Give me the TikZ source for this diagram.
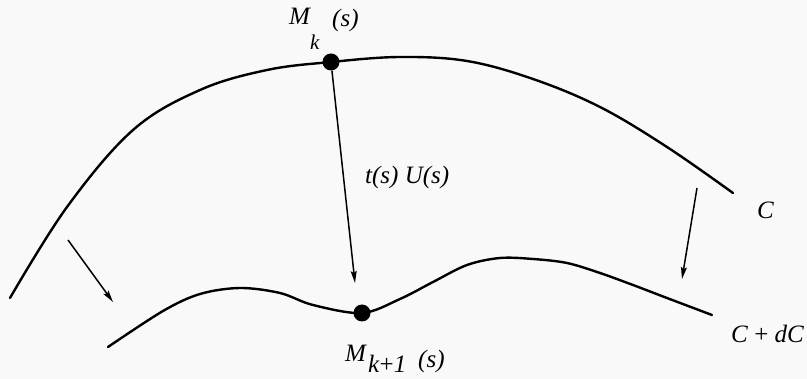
\documentclass[tikz,border=0pt]{standalone}
\usepackage{fontspec}
\setmainfont{Liberation Serif}
\usetikzlibrary{arrows.meta}
\definecolor{paper}{rgb}{0.975,0.975,0.975}
\tikzset{
  curve/.style={line width=2.4pt, line cap=round, line join=round},
  vecarrow/.style={line width=1.5pt, -{Stealth[length=12pt,width=6pt,inset=2pt]}},
  dotnode/.style={circle, fill=black, inner sep=0pt, minimum width=16pt, minimum height=17pt},
  lbl/.style={anchor=base west, inner sep=0pt, font=\fontsize{25}{28}\selectfont\itshape},
  sublbl/.style={anchor=base west, inner sep=0pt, font=\fontsize{21}{24}\selectfont\itshape}
}
\begin{document}
\begin{tikzpicture}[x=1pt,y=-1pt]
\fill[paper] (0,0) rectangle (807,379);
\useasboundingbox (0,0) rectangle (807,379);
% curve C
\draw[curve] plot[smooth, tension=0.6] coordinates {
 (10,298) (67,207) (133,130) (200,90) (267,70) (331,62)
 (400,57) (467,61) (533,79) (600,107) (667,147) (733,193)};
% curve C + dC
\draw[curve] plot[smooth, tension=0.55] coordinates {
 (108,347) (163,311) (200,294) (240,288) (280,293) (313,305) (362,313) (400,299)
 (433,282) (467,265) (500,258) (533,259) (567,263) (600,273) (633,285) (667,298) (712,315)};
% points
\node[dotnode] (Mk) at (331,62) {};
\node[dotnode] (Mk1) at (362,313) {};
% arrow ends
\coordinate (tipU) at (355,283);
\coordinate (la0) at (68,240);
\coordinate (la1) at (113,302);
\coordinate (ra0) at (697,188);
\coordinate (ra1) at (682,279);
\draw[vecarrow] (Mk) -- (tipU);
\draw[vecarrow] (la0) -- (la1);
\draw[vecarrow] (ra0) -- (ra1);
% labels
\node[lbl] (lM) at (289,25) {M};
\node[lbl] (ls) at (332,27) {(s)};
\node[sublbl] (lk) at (310,50) {k};
\node[lbl] (ltu) at (365,184) {t(s) U(s)};
\node[lbl] (lM1) at (345,362) {M};
\node[lbl] (lk1) at (368,373) {k\textup{+}1};
\node[lbl] (ls1) at (418,368) {(s)};
\node[lbl] (lC) at (757,219) {C};
\node[lbl] (lCdC) at (731,343) {C \textup{+} dC};
\end{tikzpicture}
\end{document}
